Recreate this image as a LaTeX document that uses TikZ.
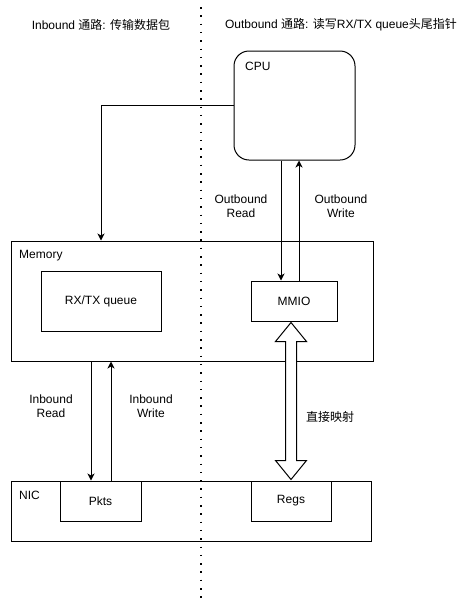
\documentclass[tikz,border=0pt]{standalone}
\usepackage{fontspec}
\setmainfont{Liberation Sans}
\newfontfamily\cjk{Noto Sans CJK SC}
\usetikzlibrary{arrows.meta,calc}
\tikzset{
    box/.style={draw,line width=1pt,inner sep=0pt},
    arr/.style={line width=1pt,-{Stealth[length=7pt,width=7pt,inset=2pt]}},
    lbl/.style={align=center,inner sep=0pt}
}
\begin{document}
\begin{tikzpicture}[x=1pt,y=-1pt,font=\fontsize{12}{14}\selectfont]
    \useasboundingbox (0,0) rectangle (467,603);
    \draw[line width=1.5pt,dash pattern=on 1.5pt off 6.8pt] (201,7) -- (201,603);
    \node[lbl] (tin) at (101,25) {Inbound {\cjk 通路}: {\cjk 传输数据包}};
    \node[lbl] (tout) at (341,25) {Outbound {\cjk 通路}: {\cjk 读写}RX/TX queue{\cjk 头尾指针}};

    \node[box,rounded corners=15pt,minimum width=121pt,minimum height=109pt] (cpu) at (294.5,105.5) {};
    \node[lbl,anchor=west] at (245,66) {CPU};

    \node[box,minimum width=362pt,minimum height=120pt] (mem) at (192,301) {};
    \node[lbl,anchor=west] at (19,256) {Memory};
    \node[box,minimum width=120pt,minimum height=60pt] (queue) at (101,301) {RX/TX queue};
    \node[box,minimum width=86pt,minimum height=40pt] (mmio) at (294,301) {MMIO};

    \node[box,minimum width=360pt,minimum height=60pt] (nic) at (191,511) {};
    \node[lbl,anchor=west] at (19,495) {NIC};
    \node[box,minimum width=81pt,minimum height=40pt] (pkts) at (100.5,501) {Pkts};
    \node[box,minimum width=80pt,minimum height=40pt] (regs) at (291,501) {Regs};

    \draw[arr] (cpu.west) -| (queue.north |- mem.north);
    \draw[arr] ([xshift=-13pt]mmio.north |- cpu.south) -- ([xshift=-13pt]mmio.north);
    \draw[arr] ([xshift=5pt]mmio.north) -- ([xshift=5pt]mmio.north |- cpu.south);
    \draw[arr] ([xshift=-9.5pt]pkts.north |- mem.south) -- ([xshift=-9.5pt]pkts.north);
    \draw[arr] ([xshift=10.5pt]pkts.north) -- ([xshift=10.5pt]pkts.north |- mem.south);
    \node[lbl] (oread) at (241,206) {Outbound\\Read};
    \node[lbl] (owrite) at (341,206) {Outbound\\Write};
    \node[lbl] (iread) at (51,406) {Inbound\\Read};
    \node[lbl] (iwrite) at (151,406) {Inbound\\Write};

    \coordinate (mtop) at ($(regs.north |- mmio.south)+(0,1)$);
    \coordinate (mbot) at ($(regs.north)+(0,-1)$);
    \draw[line width=1pt,fill=white] (mtop) -- ++(15.5,19) -- ++(-10,0) -- ($(mbot)+(5.5,-19)$)
        -- ++(10,0) -- (mbot) -- ++(-15.5,-19) -- ++(10,0) -- ($(mtop)+(-5.5,19)$)
        -- ++(-10,0) -- cycle;
    \node[lbl] (map) at (330,417) {\cjk 直接映射};
\end{tikzpicture}
\end{document}
